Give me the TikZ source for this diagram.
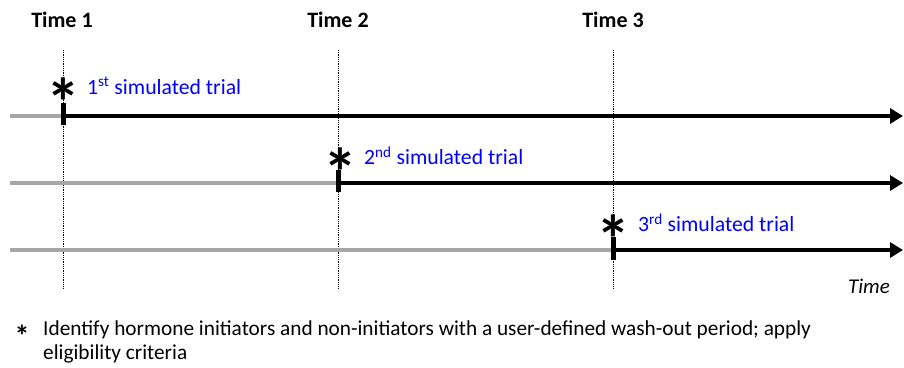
\documentclass[tikz,border=0pt]{standalone}
\usepackage{fontspec}
\setmainfont{Carlito}
\usetikzlibrary{arrows.meta}
\definecolor{pregray}{HTML}{A6A6A6}
\definecolor{trialblue}{HTML}{0000FF}
\begin{document}
\begin{tikzpicture}[x=1pt,y=-1pt,
  timelbl/.style={font=\fontsize{22}{24}\selectfont\bfseries, inner sep=0pt},
  guide/.style={densely dotted, line width=0.8pt},
  preline/.style={pregray, line width=4pt},
  postline/.style={black, line width=4pt, -{Triangle[length=13pt,width=15pt]}},
  tickmark/.style={black, line width=5pt},
  star/.style={font=\fontsize{68}{68}\selectfont\bfseries, inner sep=0pt, anchor=base},
  triallbl/.style={font=\fontsize{21.7}{24}\selectfont, text=trialblue, anchor=west, inner sep=0pt},
  note/.style={font=\fontsize{21.3}{24}\selectfont, anchor=west, inner sep=0pt, text height=13pt, text depth=4pt}]
\useasboundingbox (0,0) rectangle (904,367);
% time labels
\node[timelbl] (t1) at (62,20) {Time 1};
\node[timelbl] (t2) at (338,20) {Time 2};
\node[timelbl] (t3) at (613,20) {Time 3};
% guides
\coordinate (g1a) at (63,50); \coordinate (g1b) at (63,288);
\coordinate (g2a) at (338,50); \coordinate (g2b) at (338,288);
\coordinate (g3a) at (613,50); \coordinate (g3b) at (613,288);
\draw[guide] (g1a) -- (g1b);
\draw[guide] (g2a) -- (g2b);
\draw[guide] (g3a) -- (g3b);
% row 1
\coordinate (s1) at (10,116); \coordinate (m1) at (63,116); \coordinate (e1) at (903,116);
\draw[preline] (s1) -- (m1);
\draw[postline] (m1) -- (e1);
\coordinate (k1a) at (63,103); \coordinate (k1b) at (63,125);
\draw[tickmark] (k1a) -- (k1b);
\node[star] (a1) at (63,126) {*};
\node[triallbl] (l1) at (87,86) {1\textsuperscript{st} simulated trial};
% row 2
\coordinate (s2) at (10,183); \coordinate (m2) at (338,183); \coordinate (e2) at (903,183);
\draw[preline] (s2) -- (m2);
\draw[postline] (m2) -- (e2);
\coordinate (k2a) at (338,170); \coordinate (k2b) at (338,192);
\draw[tickmark] (k2a) -- (k2b);
\node[star] (a2) at (340,196) {*};
\node[triallbl] (l2) at (364,156) {2\textsuperscript{nd} simulated trial};
% row 3
\coordinate (s3) at (10,250); \coordinate (m3) at (613,250); \coordinate (e3) at (903,250);
\draw[preline] (s3) -- (m3);
\draw[postline] (m3) -- (e3);
\coordinate (k3a) at (613,237); \coordinate (k3b) at (613,260);
\draw[tickmark] (k3a) -- (k3b);
\node[star] (a3) at (613,263) {*};
\node[triallbl] (l3) at (638,223) {3\textsuperscript{rd} simulated trial};
% time axis label
\node[font=\fontsize{21}{24}\selectfont\itshape, inner sep=0pt] (tm) at (869,286) {Time};
% footnote
\node[font=\fontsize{30}{30}\selectfont\bfseries, inner sep=0pt, anchor=base] (fs) at (22,346) {*};
\node[note] (n1) at (43,331) {Identify hormone initiators and non-initiators with a user-defined wash-out period; apply};
\node[note] (n2) at (43,355) {eligibility criteria};
\end{tikzpicture}
\end{document}
